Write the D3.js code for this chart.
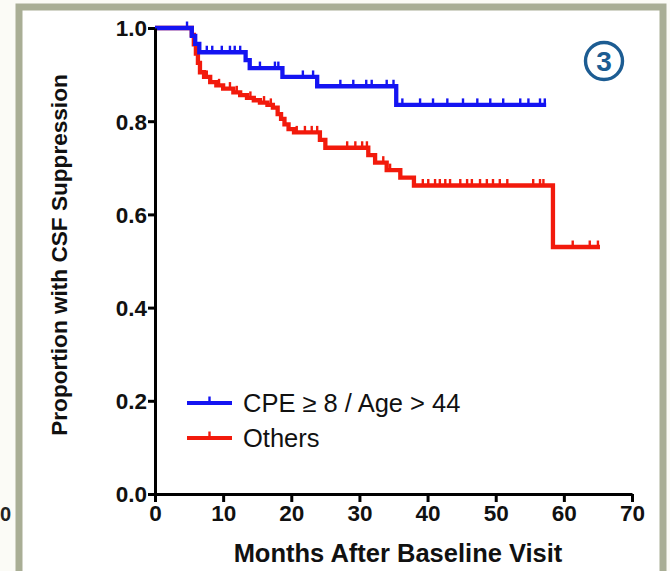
<!DOCTYPE html>
<html><head><meta charset="utf-8">
<script src="https://cdn.jsdelivr.net/npm/d3@7"></script>
<style>
html,body{margin:0;padding:0;background:#fff;}
svg{display:block;font-family:"Liberation Sans",Arial,sans-serif;}
</style></head>
<body>
<svg id="c" width="670" height="571"></svg>
<script>
// ---- data ----
const xTicks = [0, 10, 20, 30, 40, 50, 60, 70];
const yTicks = [0.0, 0.2, 0.4, 0.6, 0.8, 1.0];
const seriesNames = ["CPE \u2265 8 / Age > 44", "Others"];

const blueTimes = [0, 5.4, 5.9, 6.5, 13.3, 13.9, 18.7, 23.8, 35.4];
const blueSurv  = [1.0, 0.983, 0.966, 0.948, 0.931, 0.914, 0.895, 0.875, 0.835];
const blueEnd = 57.4;
const blueCensor = [4.7, 7.6, 8.4, 9.8, 11.0, 11.7, 12.5, 15.4, 17.6, 18.1, 21.7, 23.2,
  27.2, 29.1, 31.0, 31.8, 34.0, 35.0, 36.3, 38.9, 40.8, 42.9, 45.2, 47.3, 49.2, 51.1,
  53.6, 54.8, 56.5, 57.2];

const redTimes = [0, 5.4, 5.7, 6.0, 6.3, 6.6, 7.2, 8.1, 9.0, 10.0, 11.5, 12.5, 13.5,
  14.5, 15.4, 16.5, 17.3, 18.0, 18.5, 19.0, 19.6, 20.4, 24.2, 25.0, 31.3, 32.3, 34.0,
  36.0, 38.0, 58.4];
const redSurv = [1.0, 0.985, 0.965, 0.945, 0.925, 0.905, 0.895, 0.884, 0.877, 0.870,
  0.862, 0.856, 0.850, 0.845, 0.840, 0.835, 0.829, 0.815, 0.805, 0.793, 0.783, 0.776,
  0.760, 0.743, 0.727, 0.711, 0.695, 0.679, 0.662, 0.530];
const redEnd = 65.3;
const redCensor = [7.6, 9.4, 11.0, 12.0, 14.0, 16.0, 17.0, 20.8, 22.0, 23.0, 23.8,
  28.2, 29.4, 30.4, 31.1, 33.5, 34.5, 39.3, 40.1, 41.1, 41.8, 42.6, 43.3, 44.8, 45.8,
  46.5, 47.7, 48.7, 49.6, 50.6, 51.7, 55.5, 56.5, 57.0, 61.3, 63.8, 65.0];

const blueColor = "#1414f2", redColor = "#f21a0c";

// ---- chart ----
const svg = d3.select("#c");

// frame
svg.append("rect").attr("x", 0).attr("y", 0).attr("width", 670).attr("height", 571).attr("fill", "#fbfbf6");
svg.append("rect").attr("x", 19).attr("y", 7).attr("width", 644).attr("height", 600)
  .attr("fill", "#ffffff").attr("stroke", "#a9ae95").attr("stroke-width", 7);
svg.append("text").attr("x", 0).attr("y", 521).attr("text-anchor", "start")
  .attr("font-size", 20).attr("font-weight", "bold").attr("fill", "#222").text("0");

const x = d3.scaleLinear().domain([0, 70]).range([155, 632]);
const y = d3.scaleLinear().domain([0, 1]).range([494, 28]);

function stepData(times, surv, end) {
  const d = times.map((t, i) => [t, surv[i]]);
  d.push([end, surv[surv.length - 1]]);
  return d;
}
function survAt(times, surv, t) {
  const i = d3.bisectRight(times, t) - 1;
  return surv[Math.max(0, i)];
}
const line = d3.line().x(d => x(d[0])).y(d => y(d[1])).curve(d3.curveStepAfter);

function drawSeries(times, surv, end, cens, color) {
  const g = svg.append("g");
  g.append("path").datum(stepData(times, surv, end)).attr("d", line)
    .attr("fill", "none").attr("stroke", color).attr("stroke-width", 4.3)
    .attr("stroke-linejoin", "miter");
  g.selectAll("line.c").data(cens).enter().append("line")
    .attr("x1", d => x(d)).attr("x2", d => x(d))
    .attr("y1", d => y(survAt(times, surv, d)))
    .attr("y2", d => y(survAt(times, surv, d)) - 6.5)
    .attr("stroke", color).attr("stroke-width", 2.4);
}
drawSeries(redTimes, redSurv, redEnd, redCensor, redColor);
drawSeries(blueTimes, blueSurv, blueEnd, blueCensor, blueColor);

// axes
const yAxis = svg.append("g").attr("transform", `translate(${x(0)},0)`)
  .call(d3.axisLeft(y).tickValues(yTicks).tickFormat(d3.format(".1f")).tickSize(7).tickSizeOuter(0));
const xAxis = svg.append("g").attr("transform", `translate(0,${y(0)})`)
  .call(d3.axisBottom(x).tickValues(xTicks).tickFormat(d3.format("d")).tickSize(8).tickSizeOuter(0));
[yAxis, xAxis].forEach(a => {
  a.select(".domain").attr("stroke", "#000").attr("stroke-width", 3);
  a.selectAll(".tick line").attr("stroke", "#000").attr("stroke-width", 3);
  a.selectAll(".tick text").attr("fill", "#111").attr("font-size", 22.5).attr("font-weight", "bold")
   .attr("font-family", "Liberation Sans, Arial, sans-serif");
});
yAxis.selectAll(".tick text").attr("x", -8).attr("dy", "0.35em");
xAxis.selectAll(".tick text").attr("y", 11).attr("dy", "0.71em");

// axis titles
svg.append("text").attr("x", 398).attr("y", 562).attr("text-anchor", "middle")
  .attr("font-size", 25.5).attr("font-weight", "bold").attr("fill", "#111")
  .text("Months After Baseline Visit");
svg.append("text").attr("transform", "translate(67,255) rotate(-90)").attr("text-anchor", "middle")
  .attr("font-size", 22.6).attr("font-weight", "bold").attr("fill", "#111")
  .text("Proportion with CSF Suppression");

// legend
const legend = svg.append("g");
[blueColor, redColor].forEach((c, i) => {
  const ly = 403 + i * 35;
  legend.append("line").attr("x1", 187).attr("x2", 232).attr("y1", ly).attr("y2", ly)
    .attr("stroke", c).attr("stroke-width", 4);
  legend.append("line").attr("x1", 209.5).attr("x2", 209.5).attr("y1", ly).attr("y2", ly - 6.5)
    .attr("stroke", c).attr("stroke-width", 2.4);
  legend.append("text").attr("x", 243).attr("y", ly + 9).attr("font-size", 25.5)
    .attr("fill", "#111").text(seriesNames[i]);
});

// circled 3
svg.append("circle").attr("cx", 604).attr("cy", 61).attr("r", 18.5)
  .attr("fill", "none").attr("stroke", "#1c5c92").attr("stroke-width", 3.4);
svg.append("text").attr("x", 604).attr("y", 71).attr("text-anchor", "middle")
  .attr("font-size", 28).attr("font-weight", "bold").attr("fill", "#1c5c92").text("3");
</script>
</body></html>
